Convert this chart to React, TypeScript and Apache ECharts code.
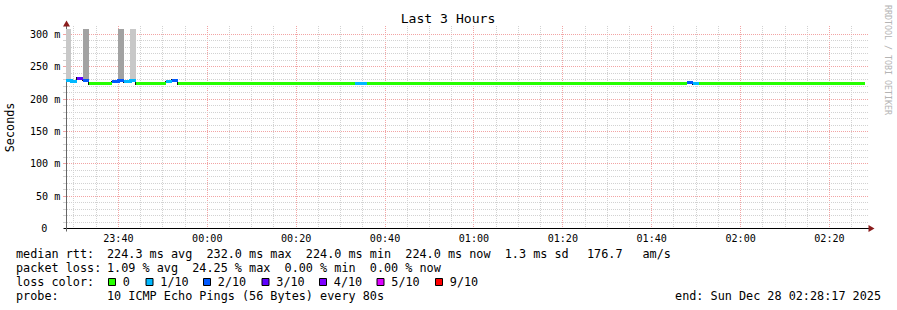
import React, { useEffect, useRef } from 'react';
import * as echarts from 'echarts';

const MONO = '"DejaVu Sans Mono", monospace';

// Time: seconds relative to Sun Dec 28 2025 00:00 (negative = previous evening)
const windowStart = -1903; // 23:28:17
const windowEnd = 8897; // 02:28:17
const stepSeconds = 80;
const firstStepStart = -1920;

// median rtt, run-length encoded per 80 s step
const medianRunSteps = [1, 1, 1, 1, 4, 1, 1, 1, 1, 5, 1, 1, 30, 2, 54, 1, 1, 28];
const medianRunMs = [229, 227, 232, 229, 224, 227, 229, 227, 229, 224, 227, 229, 224, 224, 224, 225.5, 224, 224];
const medianRunLoss = [1, 1, 3, 2, 0, 2, 2, 1, 1, 0, 1, 2, 0, 1, 0, 2, 1, 0];

// smoke (ping spread) on a few steps
const smokeStepIndex = [0, 3, 9, 11];
const smokeTopMs = [312, 312, 312, 312];
const smokeDensity = [0, 1, 1, 0];
const smokeColors = ['#c8c8c8', '#a2a2a2'];

const lossThresholds = [0, 1, 2, 3, 4, 5, 9];
const lossLabels = ['0', '1/10', '2/10', '3/10', '4/10', '5/10', '9/10'];
const lossColors = ['#26ff00', '#00b8ff', '#0059ff', '#5e00ff', '#7e00ff', '#dd00ff', '#ff0000'];

const timeTickLabels = ['23:40', '00:00', '00:20', '00:40', '01:00', '01:20', '01:40', '02:00', '02:20'];
const yMax = 309.3;
const yLabelValues = [0, 50, 100, 150, 200, 250, 300];

const statsLine1Label = 'median rtt:';
const statsLine1Values = '224.3 ms avg  232.0 ms max  224.0 ms min  224.0 ms now  1.3 ms sd';
const statsLine1Rate = '176.7';
const statsLine1Unit = 'am/s';
const statsLine2Label = 'packet loss:';
const statsLine2Values = '1.09 % avg  24.25 % max  0.00 % min  0.00 % now';
const lossColorLabel = 'loss color:';
const probeLabel = 'probe:';
const probeText = '10 ICMP Echo Pings (56 Bytes) every 80s';
const endText = 'end: Sun Dec 28 02:28:17 2025';
const titleText = 'Last 3 Hours';
const yAxisTitle = 'Seconds';
const watermark = 'RRDTOOL / TOBI OETIKER';

const GRID_MINOR = '#d2d2d2';
const GRID_MAJOR = '#f2a4a4';

function parseClock(s: string): number {
  const [h, m] = s.split(':').map(Number);
  return (h >= 12 ? h - 24 : h) * 3600 + m * 60;
}

function lossColor(loss: number): string {
  let idx = 0;
  for (let i = 0; i < lossThresholds.length; i++) if (loss >= lossThresholds[i]) idx = i;
  return lossColors[idx];
}

export default function App() {
  const ref = useRef<HTMLDivElement>(null);

  useEffect(() => {
    if (!ref.current) return;
    const chart = echarts.init(ref.current, undefined, { renderer: 'svg' });

    // steps: [start, end, median, loss, prevMedian, prevLoss]
    const steps: number[][] = [];
    let k = 0;
    let prev = -1;
    let prevLoss = -1;
    for (let r = 0; r < medianRunSteps.length; r++) {
      for (let j = 0; j < medianRunSteps[r]; j++) {
        const s = firstStepStart + k * stepSeconds;
        steps.push([Math.max(s, windowStart), s + stepSeconds, medianRunMs[r], medianRunLoss[r], prev, prevLoss]);
        prev = medianRunMs[r];
        prevLoss = medianRunLoss[r];
        k++;
      }
    }
    const smokeData = smokeStepIndex.map((si, i) => [steps[si][0], steps[si][1], steps[si][2], smokeTopMs[i], smokeDensity[i]]);

    // grid lines
    const gridData: number[][] = [];
    for (let t = Math.ceil(windowStart / 300) * 300; t < windowEnd; t += 300) {
      gridData.push([t % 1200 === 0 ? 1 : 0, t]);
    }
    for (let v = 10; v < yMax; v += 10) {
      gridData.push([v % 50 === 0 ? 3 : 2, v]);
    }

    const tickSecs = timeTickLabels.map(parseClock);
    const labelMap: Record<number, string> = {};
    timeTickLabels.forEach((l, i) => (labelMap[tickSecs[i]] = l));

    const legendY = [254.4, 268.4, 282.4, 296.4];
    const squareX = [108, 145.5, 203, 261.5, 319, 376.5, 435];

    const txt = (text: string, x: number, y: number, extra: any = {}) => ({
      type: 'text',
      x,
      y,
      silent: true,
      style: {
        text,
        fontFamily: MONO,
        fontSize: 11.8,
        fill: '#000',
        align: 'left',
        verticalAlign: 'middle',
        ...extra,
      },
    });

    const graphic: any[] = [
      txt(titleText, 448, 18.5, { fontSize: 13.1, align: 'center' }),
      { ...txt(yAxisTitle, 10.2, 127.4, { align: 'center' }), rotation: Math.PI / 2 },
      { ...txt(watermark, 888, 60, { align: 'center', fontSize: 8.3, fill: '#b4b4b4' }), rotation: -Math.PI / 2 },
      // axes
      { type: 'line', silent: true, shape: { x1: 63.5, y1: 228.5, x2: 869, y2: 228.5 }, style: { stroke: '#000', lineWidth: 1 } },
      { type: 'line', silent: true, shape: { x1: 66.5, y1: 231.5, x2: 66.5, y2: 26 }, style: { stroke: '#666', lineWidth: 1 } },
      { type: 'polygon', silent: true, shape: { points: [[63, 26.5], [70, 26.5], [66.5, 20.5]] }, style: { fill: '#8a1c1c' } },
      { type: 'polygon', silent: true, shape: { points: [[868.5, 225], [868.5, 232], [874.5, 228.5]] }, style: { fill: '#8a1c1c' } },
      txt(statsLine1Label, 16, legendY[0]),
      txt(statsLine1Values, 107, legendY[0]),
      txt(statsLine1Rate, 587, legendY[0]),
      txt(statsLine1Unit, 642.5, legendY[0]),
      txt(statsLine2Label, 16, legendY[1]),
      txt(statsLine2Values, 107, legendY[1]),
      txt(lossColorLabel, 16, legendY[2]),
      txt(probeLabel, 16, legendY[3]),
      txt(probeText, 107, legendY[3]),
      txt(endText, 881, legendY[3], { align: 'right' }),
    ];
    lossLabels.forEach((l, i) => {
      graphic.push({
        type: 'rect',
        silent: true,
        shape: { x: squareX[i] + 0.5, y: 278.5, width: 7, height: 7 },
        style: { fill: lossColors[i], stroke: '#000', lineWidth: 1 },
      });
      graphic.push(txt(l, squareX[i] + 14.8, legendY[2]));
    });

    const xSpan = (params: any, api: any, s: number, e: number, v: number) => {
      const cs = params.coordSys;
      const xa = Math.round(Math.max(cs.x, api.coord([s, v])[0]));
      const xb = Math.round(Math.min(cs.x + cs.width, api.coord([e, v])[0]));
      return [xa, xb];
    };

    const option: any = {
      animation: false,
      backgroundColor: '#ffffff',
      grid: { left: 66.3, top: 28.5, width: 800, height: 200, containLabel: false },
      xAxis: {
        type: 'value',
        min: windowStart,
        max: windowEnd,
        axisLine: { show: false },
        axisTick: { show: false },
        splitLine: { show: false },
        axisLabel: {
          customValues: tickSecs,
          formatter: (v: number) => labelMap[v] ?? '',
          fontFamily: MONO,
          fontSize: 10.1,
          color: '#000',
          margin: 9.7,
          verticalAlign: 'middle',
          hideOverlap: false,
        },
      },
      yAxis: {
        type: 'value',
        min: 0,
        max: yMax,
        interval: 50,
        axisLine: { show: false },
        axisTick: { show: false },
        splitLine: { show: false },
        axisLabel: {
          fontFamily: MONO,
          fontSize: 10.1,
          color: '#000',
          margin: 6,
          formatter: (v: number) => (v === 0 ? '{z|0}' : yLabelValues.includes(v) ? `${v} m` : ''),
          rich: { z: { fontFamily: MONO, fontSize: 10.1, color: '#000', padding: [0, 13, 0, 0] } },
        },
      },
      series: [
        {
          type: 'custom',
          name: 'grid',
          silent: true,
          data: gridData,
          renderItem: (params: any, api: any) => {
            const cs = params.coordSys;
            const kind = api.value(0);
            const v = api.value(1);
            if (kind < 2) {
              const x = Math.floor(api.coord([v, 0])[0]) + 0.5;
              return {
                type: 'line',
                shape: { x1: x, y1: Math.floor(cs.y) - 2, x2: x, y2: Math.floor(cs.y + cs.height) },
                style: { stroke: kind === 1 ? GRID_MAJOR : GRID_MINOR, lineWidth: 1, lineDash: [1, 1] },
              };
            }
            const y = Math.floor(api.coord([windowStart, v])[1]) + 0.5;
            const col = kind === 3 ? GRID_MAJOR : GRID_MINOR;
            const x0 = Math.round(cs.x) + 1;
            return {
              type: 'group',
              children: [
                { type: 'line', shape: { x1: x0, y1: y, x2: x0 + 802, y2: y }, style: { stroke: col, lineWidth: 1, lineDash: [1, 1] } },
                { type: 'line', shape: { x1: 63, y1: y, x2: 66, y2: y }, style: { stroke: col, lineWidth: 1 } },
              ],
            };
          },
        },
        {
          type: 'custom',
          name: 'smoke',
          silent: true,
          data: smokeData,
          renderItem: (params: any, api: any) => {
            const cs = params.coordSys;
            const s = api.value(0), e = api.value(1), med = api.value(2), top = api.value(3), d = api.value(4);
            const [xa, xb] = xSpan(params, api, s, e, med);
            const yt = Math.max(Math.round(cs.y), Math.round(api.coord([s, top])[1]));
            const yb = Math.round(api.coord([s, med])[1]);
            return { type: 'rect', shape: { x: xa, y: yt, width: xb - xa, height: yb - yt }, style: { fill: smokeColors[d] } };
          },
        },
        {
          type: 'custom',
          name: 'median step',
          silent: true,
          data: steps,
          renderItem: (params: any, api: any) => {
            const s = api.value(0), e = api.value(1), med = api.value(2), pv = api.value(4);
            if (pv < 0 || pv === med) return null;
            const [xa] = xSpan(params, api, s, e, med);
            const yc = Math.round(api.coord([s, med])[1]);
            const yp = Math.round(api.coord([s, pv])[1]);
            const y1 = Math.min(yc, yp) - 1;
            const y2 = Math.max(yc, yp) + 1;
            return { type: 'rect', shape: { x: xa - 1, y: y1, width: 1, height: y2 - y1 }, style: { fill: '#111' } };
          },
        },
        {
          type: 'custom',
          name: 'median',
          silent: true,
          data: steps,
          renderItem: (params: any, api: any) => {
            const s = api.value(0), e = api.value(1), med = api.value(2), loss = api.value(3), pv = api.value(4), pl = api.value(5);
            const [xa, xb] = xSpan(params, api, s, e, med);
            const top = Math.round(api.coord([s, med])[1] - 1.5);
            const color = lossColor(loss);
            const children: any[] = [
              { type: 'rect', shape: { x: xa, y: top, width: xb - xa, height: 3 }, style: { fill: color } },
            ];
            if (pv >= 0 && pv !== med && lossColor(pl) === color) {
              const pt = Math.round(api.coord([s, pv])[1] - 1.5);
              const y1 = Math.min(pt, top);
              const y2 = Math.max(pt, top) + 3;
              children.push({ type: 'rect', shape: { x: xa - 1, y: y1, width: 3, height: y2 - y1 }, style: { fill: color } });
            }
            return { type: 'group', children };
          },
        },
      ],
      graphic,
    };

    chart.setOption(option);
    return () => chart.dispose();
  }, []);

  return <div ref={ref} style={{ position: 'fixed', left: 0, top: 0, width: 897, height: 310, background: '#fff' }} />;
}
